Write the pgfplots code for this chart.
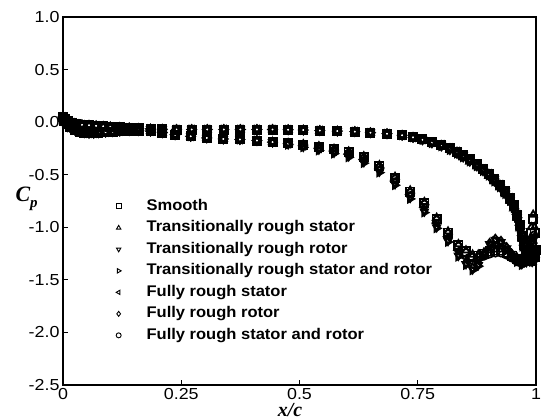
\documentclass[border=0pt]{standalone}
\usepackage{fontspec}
\setmainfont{Liberation Sans}[FakeStretch=1.07]
\newfontfamily\tickfont{Liberation Sans}[FakeStretch=1.12]
\newfontfamily\timesfont{Liberation Serif}
\usepackage{pgfplots}
\pgfplotsset{compat=1.18}
\begin{document}
\begin{tikzpicture}
\begin{axis}[
  scale only axis, width=473bp, height=368bp,
  xmin=0, xmax=1, ymin=-2.5, ymax=1,
  clip=false,
  xtick={0,0.25,0.5,0.75,1}, xticklabels={0,0.25,0.5,0.75,1},
  ytick={-2.5,-2,-1.5,-1,-0.5,0,0.5,1},
  yticklabel style={/pgf/number format/.cd, fixed, fixed zerofill, precision=1},
  /pgf/number format/assume math mode=true,
  ticklabel style={font=\tickfont\fontsize{16}{16}\selectfont},
  tick pos=left, tick align=inside, major tick length=5bp,
  tick style={line width=1.2pt, black},
  every axis x label/.style={at={(axis description cs:0.48,0)}, anchor=base, yshift=-31.5bp},
  every axis y label/.style={at={(axis description cs:0,0.5)}, anchor=base west, xshift=-51bp},
  xlabel={\timesfont\fontsize{20}{20}\selectfont\bfseries\itshape x/c},
  ylabel={\timesfont\fontsize{22}{22}\selectfont\bfseries\itshape C\raisebox{-0.3em}{\fontsize{15}{15}\selectfont p}},
  legend style={draw=none, fill=none, inner sep=0pt, at={(axis cs:0.112,-0.73)}, anchor=north west,
    font=\fontsize{15.5}{15.5}\selectfont\bfseries, row sep=7bp,
    nodes={inner sep=0pt, text height=11bp, text depth=3.5bp}},
  legend cell align=left,
  legend image code/.code={\path (0bp,0bp) (27bp,0bp); \draw[#1, mark size=2.5bp, line width=0.9pt] plot coordinates {(0bp,0bp)};},
  every axis plot/.append style={only marks, black, mark size=4.1bp, line width=1.8pt, mark options={solid, fill=none}},
]
\coordinate (sw) at (rel axis cs:0,0);
\coordinate (ne) at (rel axis cs:1,1);
% Smooth
\addplot[mark=square] coordinates {
(0,0.05)(0.004,0.03)(0.01,0.01)(0.018,-0.005)(0.028,-0.015)(0.04,-0.025)(0.055,-0.03)(0.07,-0.035)(0.085,-0.04)(0.1,-0.045)(0.12,-0.05)(0.14,-0.055)(0.16,-0.06)(0.185,-0.065)(0.21,-0.068)(0.24,-0.07)(0.272,-0.07)(0.305,-0.07)(0.34,-0.07)(0.375,-0.07)(0.41,-0.07)(0.443,-0.07)(0.476,-0.072)(0.508,-0.075)(0.543,-0.08)(0.58,-0.085)(0.617,-0.09)(0.65,-0.1)(0.685,-0.11)
(0.717,-0.125)(0.74,-0.145)(0.76,-0.165)(0.78,-0.19)(0.8,-0.215)(0.818,-0.245)(0.833,-0.28)(0.846,-0.315)(0.86,-0.355)(0.875,-0.4)(0.888,-0.445)(0.9,-0.49)(0.912,-0.54)(0.924,-0.595)(0.935,-0.655)(0.945,-0.72)(0.953,-0.79)(0.96,-0.88)(0.966,-0.98)(0.971,-1.08)(0.975,-1.17)(0.98,-1.25)(0.986,-1.3)(0.992,-1.32)(0.997,-1.28)(1,-1.22)
(0.003,0.01)(0.008,-0.02)(0.015,-0.05)(0.025,-0.075)(0.035,-0.09)(0.045,-0.1)(0.055,-0.105)(0.065,-0.105)(0.075,-0.1)(0.09,-0.095)(0.105,-0.09)(0.12,-0.085)(0.14,-0.08)(0.16,-0.08)(0.185,-0.085)(0.21,-0.1)(0.237,-0.12)(0.27,-0.135)(0.304,-0.15)(0.339,-0.16)(0.374,-0.165)(0.41,-0.175)(0.443,-0.19)
(0.476,-0.2)(0.508,-0.215)(0.541,-0.235)(0.573,-0.26)(0.604,-0.285)(0.636,-0.335)(0.669,-0.42)(0.702,-0.53)(0.734,-0.66)(0.764,-0.77)(0.79,-0.92)(0.814,-1.05)(0.836,-1.17)(0.852,-1.23)(0.866,-1.27)(0.878,-1.27)(0.89,-1.25)(0.902,-1.23)(0.914,-1.22)(0.926,-1.22)(0.938,-1.24)(0.95,-1.27)(0.96,-1.3)(0.97,-1.32)(0.98,-1.3)(0.985,-1.22)(0.99,-1.05)(0.994,-0.92)(0.997,-1.05)
};
\addlegendentry{Smooth}
% Transitionally rough stator
\addplot[mark=triangle] coordinates {
(0,0.05)(0.004,0.03)(0.01,0.01)(0.018,-0.005)(0.028,-0.015)(0.04,-0.025)(0.055,-0.03)(0.07,-0.035)(0.085,-0.04)(0.1,-0.045)(0.12,-0.05)(0.14,-0.055)(0.16,-0.06)(0.185,-0.065)(0.21,-0.068)(0.24,-0.07)(0.272,-0.07)(0.305,-0.07)(0.34,-0.07)(0.375,-0.07)(0.41,-0.07)(0.443,-0.07)(0.476,-0.072)(0.508,-0.075)(0.543,-0.08)(0.58,-0.085)(0.617,-0.09)(0.65,-0.1)(0.685,-0.11)
(0.717,-0.125)(0.74,-0.145)(0.76,-0.17)(0.78,-0.2)(0.8,-0.23)(0.818,-0.265)(0.833,-0.3)(0.846,-0.335)(0.86,-0.375)(0.875,-0.42)(0.888,-0.465)(0.9,-0.51)(0.912,-0.565)(0.924,-0.62)(0.935,-0.685)(0.945,-0.75)(0.953,-0.82)(0.96,-0.91)(0.966,-1.01)(0.971,-1.11)(0.975,-1.2)(0.98,-1.27)(0.986,-1.32)(0.992,-1.33)(0.997,-1.29)(1,-1.22)
(0.003,0.01)(0.008,-0.02)(0.015,-0.05)(0.025,-0.075)(0.035,-0.09)(0.045,-0.1)(0.055,-0.105)(0.065,-0.105)(0.075,-0.1)(0.09,-0.095)(0.105,-0.09)(0.12,-0.085)(0.14,-0.08)(0.16,-0.08)(0.185,-0.085)(0.21,-0.1)(0.237,-0.12)(0.27,-0.135)(0.304,-0.15)(0.339,-0.16)(0.374,-0.165)(0.41,-0.175)(0.443,-0.19)
(0.476,-0.2)(0.508,-0.21)(0.541,-0.23)(0.573,-0.255)(0.604,-0.28)(0.636,-0.325)(0.669,-0.41)(0.702,-0.52)(0.734,-0.65)(0.764,-0.76)(0.79,-0.91)(0.814,-1.04)(0.836,-1.16)(0.852,-1.22)(0.866,-1.26)(0.878,-1.26)(0.89,-1.24)(0.902,-1.22)(0.914,-1.21)(0.926,-1.21)(0.938,-1.23)(0.95,-1.26)(0.96,-1.29)(0.97,-1.31)(0.98,-1.28)(0.985,-1.18)(0.99,-1.0)(0.994,-0.88)(0.997,-1.0)
};
\addlegendentry{Transitionally rough stator}
% Transitionally rough rotor
\addplot[mark=triangle, mark options={rotate=180}] coordinates {
(0,0.05)(0.004,0.03)(0.01,0.01)(0.018,-0.005)(0.028,-0.015)(0.04,-0.025)(0.055,-0.03)(0.07,-0.035)(0.085,-0.04)(0.1,-0.045)(0.12,-0.05)(0.14,-0.055)(0.16,-0.06)(0.185,-0.065)(0.21,-0.068)(0.24,-0.07)(0.272,-0.07)(0.305,-0.07)(0.34,-0.07)(0.375,-0.07)(0.41,-0.07)(0.443,-0.07)(0.476,-0.072)(0.508,-0.075)(0.543,-0.08)(0.58,-0.085)(0.617,-0.09)(0.65,-0.1)(0.685,-0.11)
(0.717,-0.125)(0.74,-0.145)(0.76,-0.165)(0.78,-0.19)(0.8,-0.215)(0.818,-0.245)(0.833,-0.28)(0.846,-0.315)(0.86,-0.355)(0.875,-0.4)(0.888,-0.445)(0.9,-0.49)(0.912,-0.54)(0.924,-0.595)(0.935,-0.655)(0.945,-0.72)(0.953,-0.79)(0.96,-0.88)(0.966,-0.98)(0.971,-1.08)(0.975,-1.17)(0.98,-1.25)(0.986,-1.3)(0.992,-1.32)(0.997,-1.28)(1,-1.22)
(0.003,0.01)(0.008,-0.02)(0.015,-0.05)(0.025,-0.075)(0.035,-0.09)(0.045,-0.1)(0.055,-0.105)(0.065,-0.105)(0.075,-0.1)(0.09,-0.095)(0.105,-0.09)(0.12,-0.085)(0.14,-0.08)(0.16,-0.08)(0.185,-0.085)(0.21,-0.1)(0.237,-0.12)(0.27,-0.135)(0.304,-0.15)(0.339,-0.16)(0.374,-0.165)(0.41,-0.175)(0.443,-0.19)
(0.476,-0.21)(0.508,-0.235)(0.541,-0.26)(0.573,-0.29)(0.604,-0.325)(0.636,-0.38)(0.669,-0.47)(0.702,-0.59)(0.734,-0.72)(0.764,-0.85)(0.79,-1.0)(0.814,-1.13)(0.836,-1.27)(0.852,-1.35)(0.866,-1.4)(0.878,-1.36)(0.89,-1.26)(0.902,-1.16)(0.914,-1.12)(0.926,-1.14)(0.938,-1.2)(0.95,-1.27)(0.96,-1.32)(0.97,-1.35)(0.98,-1.33)(0.985,-1.25)(0.99,-1.15)(0.995,-1.2)
};
\addlegendentry{Transitionally rough rotor}
% Transitionally rough stator and rotor
\addplot[mark=triangle, mark options={rotate=-90}] coordinates {
(0,0.05)(0.004,0.03)(0.01,0.01)(0.018,-0.005)(0.028,-0.015)(0.04,-0.025)(0.055,-0.03)(0.07,-0.035)(0.085,-0.04)(0.1,-0.045)(0.12,-0.05)(0.14,-0.055)(0.16,-0.06)(0.185,-0.065)(0.21,-0.068)(0.24,-0.07)(0.272,-0.07)(0.305,-0.07)(0.34,-0.07)(0.375,-0.07)(0.41,-0.07)(0.443,-0.07)(0.476,-0.072)(0.508,-0.075)(0.543,-0.08)(0.58,-0.085)(0.617,-0.09)(0.65,-0.1)(0.685,-0.11)
(0.717,-0.125)(0.74,-0.145)(0.76,-0.17)(0.78,-0.2)(0.8,-0.23)(0.818,-0.265)(0.833,-0.3)(0.846,-0.335)(0.86,-0.375)(0.875,-0.42)(0.888,-0.465)(0.9,-0.51)(0.912,-0.565)(0.924,-0.62)(0.935,-0.685)(0.945,-0.75)(0.953,-0.82)(0.96,-0.91)(0.966,-1.01)(0.971,-1.11)(0.975,-1.2)(0.98,-1.27)(0.986,-1.32)(0.992,-1.33)(0.997,-1.29)(1,-1.22)
(0.003,0.01)(0.008,-0.02)(0.015,-0.05)(0.025,-0.075)(0.035,-0.09)(0.045,-0.1)(0.055,-0.105)(0.065,-0.105)(0.075,-0.1)(0.09,-0.095)(0.105,-0.09)(0.12,-0.085)(0.14,-0.08)(0.16,-0.08)(0.185,-0.085)(0.21,-0.1)(0.237,-0.12)(0.27,-0.135)(0.304,-0.15)(0.339,-0.16)(0.374,-0.165)(0.41,-0.175)(0.443,-0.19)
(0.476,-0.215)(0.508,-0.24)(0.541,-0.27)(0.573,-0.3)(0.604,-0.335)(0.636,-0.39)(0.669,-0.48)(0.702,-0.6)(0.734,-0.73)(0.764,-0.86)(0.79,-1.01)(0.814,-1.14)(0.836,-1.28)(0.852,-1.36)(0.866,-1.41)(0.878,-1.37)(0.89,-1.28)(0.902,-1.18)(0.914,-1.13)(0.926,-1.15)(0.938,-1.21)(0.95,-1.28)(0.96,-1.33)(0.97,-1.36)(0.98,-1.34)(0.985,-1.27)(0.99,-1.18)(0.995,-1.22)
};
\addlegendentry{Transitionally rough stator and rotor}
% Fully rough stator
\addplot[mark=triangle, mark options={rotate=90}] coordinates {
(0,0.05)(0.004,0.03)(0.01,0.01)(0.018,-0.005)(0.028,-0.015)(0.04,-0.025)(0.055,-0.03)(0.07,-0.035)(0.085,-0.04)(0.1,-0.045)(0.12,-0.05)(0.14,-0.055)(0.16,-0.06)(0.185,-0.065)(0.21,-0.068)(0.24,-0.07)(0.272,-0.07)(0.305,-0.07)(0.34,-0.07)(0.375,-0.07)(0.41,-0.07)(0.443,-0.07)(0.476,-0.072)(0.508,-0.075)(0.543,-0.08)(0.58,-0.085)(0.617,-0.09)(0.65,-0.1)(0.685,-0.11)
(0.717,-0.125)(0.74,-0.145)(0.76,-0.165)(0.78,-0.19)(0.8,-0.215)(0.818,-0.245)(0.833,-0.28)(0.846,-0.315)(0.86,-0.355)(0.875,-0.4)(0.888,-0.445)(0.9,-0.49)(0.912,-0.54)(0.924,-0.595)(0.935,-0.655)(0.945,-0.72)(0.953,-0.79)(0.96,-0.88)(0.966,-0.98)(0.971,-1.08)(0.975,-1.17)(0.98,-1.25)(0.986,-1.3)(0.992,-1.32)(0.997,-1.28)(1,-1.22)
(0.003,0.01)(0.008,-0.02)(0.015,-0.05)(0.025,-0.075)(0.035,-0.09)(0.045,-0.1)(0.055,-0.105)(0.065,-0.105)(0.075,-0.1)(0.09,-0.095)(0.105,-0.09)(0.12,-0.085)(0.14,-0.08)(0.16,-0.08)(0.185,-0.085)(0.21,-0.1)(0.237,-0.12)(0.27,-0.135)(0.304,-0.15)(0.339,-0.16)(0.374,-0.165)(0.41,-0.175)(0.443,-0.19)
(0.476,-0.205)(0.508,-0.225)(0.541,-0.248)(0.573,-0.275)(0.604,-0.305)(0.636,-0.357)(0.669,-0.445)(0.702,-0.56)(0.734,-0.69)(0.764,-0.81)(0.79,-0.96)(0.814,-1.09)(0.836,-1.22)(0.852,-1.29)(0.866,-1.33)(0.878,-1.31)(0.89,-1.25)(0.902,-1.2)(0.914,-1.17)(0.926,-1.18)(0.938,-1.22)(0.95,-1.27)(0.96,-1.31)(0.97,-1.33)(0.98,-1.31)(0.985,-1.24)(0.99,-1.1)(0.995,-1.12)
};
\addlegendentry{Fully rough stator}
% Fully rough rotor
\addplot[mark=diamond] coordinates {
(0,0.05)(0.004,0.03)(0.01,0.01)(0.018,-0.005)(0.028,-0.015)(0.04,-0.025)(0.055,-0.03)(0.07,-0.035)(0.085,-0.04)(0.1,-0.045)(0.12,-0.05)(0.14,-0.055)(0.16,-0.06)(0.185,-0.065)(0.21,-0.068)(0.24,-0.07)(0.272,-0.07)(0.305,-0.07)(0.34,-0.07)(0.375,-0.07)(0.41,-0.07)(0.443,-0.07)(0.476,-0.072)(0.508,-0.075)(0.543,-0.08)(0.58,-0.085)(0.617,-0.09)(0.65,-0.1)(0.685,-0.11)
(0.717,-0.125)(0.74,-0.145)(0.76,-0.17)(0.78,-0.2)(0.8,-0.23)(0.818,-0.265)(0.833,-0.3)(0.846,-0.335)(0.86,-0.375)(0.875,-0.42)(0.888,-0.465)(0.9,-0.51)(0.912,-0.565)(0.924,-0.62)(0.935,-0.685)(0.945,-0.75)(0.953,-0.82)(0.96,-0.91)(0.966,-1.01)(0.971,-1.11)(0.975,-1.2)(0.98,-1.27)(0.986,-1.32)(0.992,-1.33)(0.997,-1.29)(1,-1.22)
(0.003,0.01)(0.008,-0.02)(0.015,-0.05)(0.025,-0.075)(0.035,-0.09)(0.045,-0.1)(0.055,-0.105)(0.065,-0.105)(0.075,-0.1)(0.09,-0.095)(0.105,-0.09)(0.12,-0.085)(0.14,-0.08)(0.16,-0.08)(0.185,-0.085)(0.21,-0.1)(0.237,-0.12)(0.27,-0.135)(0.304,-0.15)(0.339,-0.16)(0.374,-0.165)(0.41,-0.175)(0.443,-0.19)
(0.476,-0.205)(0.508,-0.225)(0.541,-0.25)(0.573,-0.28)(0.604,-0.31)(0.636,-0.365)(0.669,-0.455)(0.702,-0.575)(0.734,-0.705)(0.764,-0.835)(0.79,-0.985)(0.814,-1.115)(0.836,-1.255)(0.852,-1.335)(0.866,-1.385)(0.878,-1.345)(0.89,-1.245)(0.902,-1.15)(0.914,-1.11)(0.926,-1.13)(0.938,-1.19)(0.95,-1.26)(0.96,-1.31)(0.97,-1.34)(0.98,-1.32)(0.985,-1.23)(0.99,-1.1)(0.995,-1.15)
};
\addlegendentry{Fully rough rotor}
% Fully rough stator and rotor
\addplot[mark=o] coordinates {
(0,0.05)(0.004,0.03)(0.01,0.01)(0.018,-0.005)(0.028,-0.015)(0.04,-0.025)(0.055,-0.03)(0.07,-0.035)(0.085,-0.04)(0.1,-0.045)(0.12,-0.05)(0.14,-0.055)(0.16,-0.06)(0.185,-0.065)(0.21,-0.068)(0.24,-0.07)(0.272,-0.07)(0.305,-0.07)(0.34,-0.07)(0.375,-0.07)(0.41,-0.07)(0.443,-0.07)(0.476,-0.072)(0.508,-0.075)(0.543,-0.08)(0.58,-0.085)(0.617,-0.09)(0.65,-0.1)(0.685,-0.11)
(0.717,-0.125)(0.74,-0.145)(0.76,-0.165)(0.78,-0.19)(0.8,-0.215)(0.818,-0.245)(0.833,-0.28)(0.846,-0.315)(0.86,-0.355)(0.875,-0.4)(0.888,-0.445)(0.9,-0.49)(0.912,-0.54)(0.924,-0.595)(0.935,-0.655)(0.945,-0.72)(0.953,-0.79)(0.96,-0.88)(0.966,-0.98)(0.971,-1.08)(0.975,-1.17)(0.98,-1.25)(0.986,-1.3)(0.992,-1.32)(0.997,-1.28)(1,-1.22)
(0.003,0.01)(0.008,-0.02)(0.015,-0.05)(0.025,-0.075)(0.035,-0.09)(0.045,-0.1)(0.055,-0.105)(0.065,-0.105)(0.075,-0.1)(0.09,-0.095)(0.105,-0.09)(0.12,-0.085)(0.14,-0.08)(0.16,-0.08)(0.185,-0.085)(0.21,-0.1)(0.237,-0.12)(0.27,-0.135)(0.304,-0.15)(0.339,-0.16)(0.374,-0.165)(0.41,-0.175)(0.443,-0.19)
(0.476,-0.205)(0.508,-0.22)(0.541,-0.245)(0.573,-0.27)(0.604,-0.3)(0.636,-0.35)(0.669,-0.435)(0.702,-0.545)(0.734,-0.675)(0.764,-0.785)(0.79,-0.935)(0.814,-1.065)(0.836,-1.185)(0.852,-1.245)(0.866,-1.29)(0.878,-1.29)(0.89,-1.27)(0.902,-1.25)(0.914,-1.24)(0.926,-1.24)(0.938,-1.26)(0.95,-1.29)(0.96,-1.32)(0.97,-1.34)(0.98,-1.32)(0.985,-1.26)(0.99,-1.12)(0.995,-1.08)
};
\addlegendentry{Fully rough stator and rotor}
\end{axis}
\draw[line width=2.4pt] (sw) rectangle (ne);
\pgfresetboundingbox
\path ([shift={(-63bp,-35bp)}]sw) rectangle ([shift={(5bp,17bp)}]ne);
\end{tikzpicture}
\end{document}
